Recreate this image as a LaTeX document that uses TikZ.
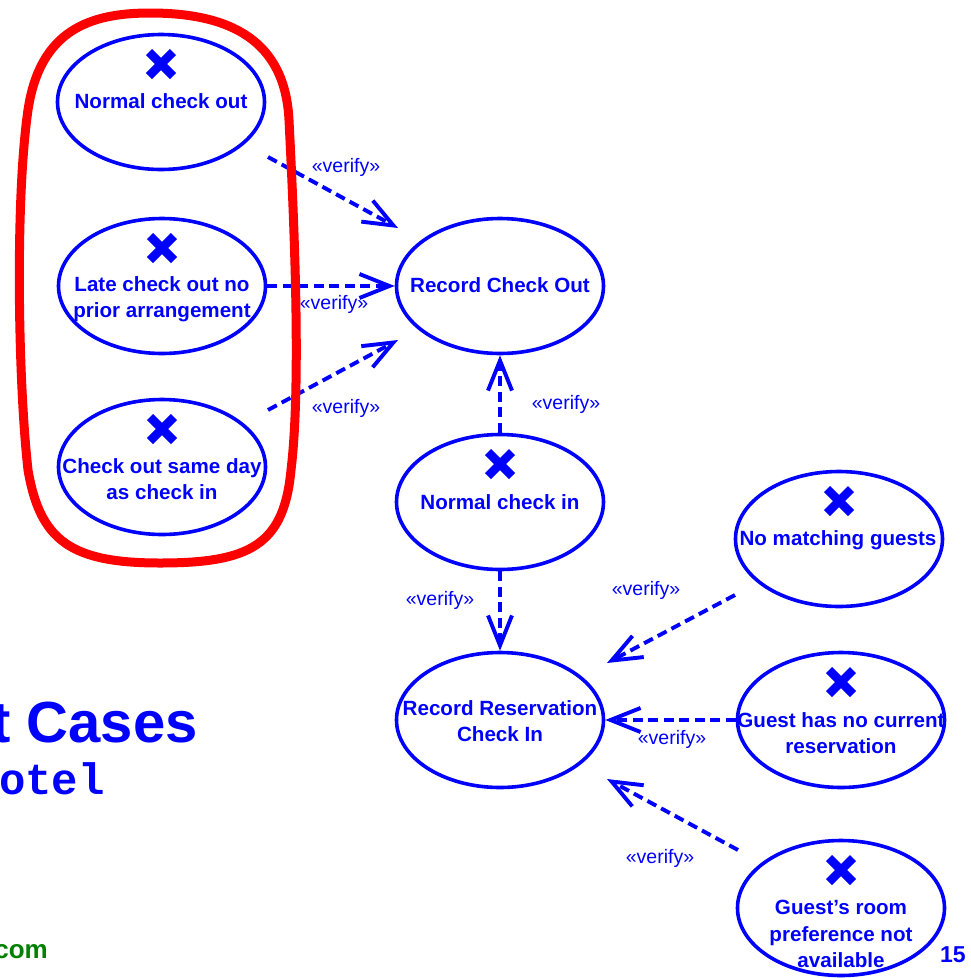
\documentclass[tikz,border=0pt]{standalone}
\usepackage{fontspec}
\setmainfont{Liberation Sans}
\newfontfamily\ucmono{Liberation Mono}
\usetikzlibrary{arrows.meta,shapes.geometric}
\definecolor{ucblue}{RGB}{0,0,255}
\definecolor{ucred}{RGB}{255,0,0}
\definecolor{ucgreen}{RGB}{0,128,0}
\begin{document}
\begin{tikzpicture}[x=1pt,y=-1pt,
  uc/.style={draw=ucblue, line width=3.6pt, ellipse, minimum width=207pt, minimum height=135pt, inner sep=0pt},
  uctext/.style={text=ucblue, font=\fontsize{20.6}{26.5}\selectfont\bfseries, align=center, inner sep=0pt},
  verlabel/.style={text=ucblue, font=\fontsize{19.5}{24}\selectfont, inner sep=0pt},
  dep/.style={draw=ucblue, line width=3.9pt, dash pattern=on 10pt off 5.5pt,
              -{Straight Barb[length=30pt,width=24pt]}},
  xmark/.style={draw=ucblue, line width=8.5pt},
  ring/.style={draw=ucred, line width=9pt, line join=round}
]
\useasboundingbox (0,0) rectangle (970,978);

% use case ellipses
\node[uc] (nco) at (161,102) {};
\node[uc] (lco) at (162,286) {};
\node[uc] (csd) at (162,467) {};
\node[uc] (rco) at (500,286) {};
\node[uc] (nci) at (500,502) {};
\node[uc] (rrc) at (500,720) {};
\node[uc] (nmg) at (839,539) {};
\node[uc] (gnc) at (841,720) {};
\node[uc] (grp) at (841,908) {};

% X marks
\foreach \n in {nco,lco,csd,nci,nmg,gnc,grp}
  \draw[xmark] ([shift={(-12,-50)}]\n.center) -- ([shift={(12,-26)}]\n.center)
               ([shift={(-12,-26)}]\n.center) -- ([shift={(12,-50)}]\n.center);

% texts
\node[uctext] (tnco) at (161,101) {Normal check out};
\node[uctext] (tlco) at (162,299) {Late check out no\\prior arrangement};
\node[uctext] (tcsd) at (162,479) {Check out same day\\as check in};
\node[uctext] (trco) at (500,285) {Record Check Out};
\node[uctext] (tnci) at (500,502) {Normal check in};
\node[uctext] (trrc) at (500,721) {Record Reservation\\Check In};
\node[uctext] (tnmg) at (838,540) {No matching guests};
\node[uctext] (tgnc) at (841,733) {Guest has no current\\reservation};
\node[uctext] (tgrp) at (841,934) {Guest’s room\\preference not\\available};

% connectors
\coordinate (a1s) at (268,157);
\coordinate (a1e) at (398,228);
\coordinate (a3s) at (268,410);
\coordinate (a3e) at (398,340);
\coordinate (a6s) at (735,595);
\coordinate (a6e) at (607,663);
\coordinate (a8s) at (738,850);
\coordinate (a8e) at (607,779);
\draw[dep] (a1s) -- (a1e);
\draw[dep] (lco.east) -- (rco.west);
\draw[dep] (a3s) -- (a3e);
\draw[dep] (nci.north) -- (rco.south);
\draw[dep] (nci.south) -- (rrc.north);
\draw[dep] (a6s) -- (a6e);
\draw[dep] (gnc.west) -- (rrc.east);
\draw[dep] (a8s) -- (a8e);

% labels
\node[verlabel] (v1) at (346,167) {«verify»};
\node[verlabel] (v2) at (334,304) {«verify»};
\node[verlabel] (v3) at (346,408) {«verify»};
\node[verlabel] (v4) at (566,404) {«verify»};
\node[verlabel] (v5) at (440,600) {«verify»};
\node[verlabel] (v6) at (646,590) {«verify»};
\node[verlabel] (v7) at (672,739) {«verify»};
\node[verlabel] (v8) at (660,858) {«verify»};

% red highlight ring
\draw[ring] (150,13) .. controls (230,13) and (285,40) .. (289,120)
  .. controls (293,200) and (302,380) .. (291,470)
  .. controls (284,545) and (250,563) .. (160,563)
  .. controls (70,563) and (40,540) .. (28,470)
  .. controls (18,380) and (15,200) .. (28,110)
  .. controls (40,30) and (90,13) .. (150,13) -- cycle;

% slide texts
\node[anchor=base east, text=ucblue, font=\fontsize{58}{60}\selectfont\bfseries, inner sep=0pt] (title) at (198,742) {t Cases};
\node[anchor=base east, text=ucblue, font={\ucmono\bfseries\fontsize{44}{46}\selectfont}, inner sep=0pt] (sub) at (105,794) {otel};
\node[anchor=base east, text=ucgreen, font=\fontsize{26}{28}\selectfont\bfseries, inner sep=0pt] (url) at (48,958) {com};
\node[anchor=base west, text=ucblue, font=\fontsize{23}{25}\selectfont\bfseries, inner sep=0pt] (pg) at (940,962) {15};
\end{tikzpicture}
\end{document}
